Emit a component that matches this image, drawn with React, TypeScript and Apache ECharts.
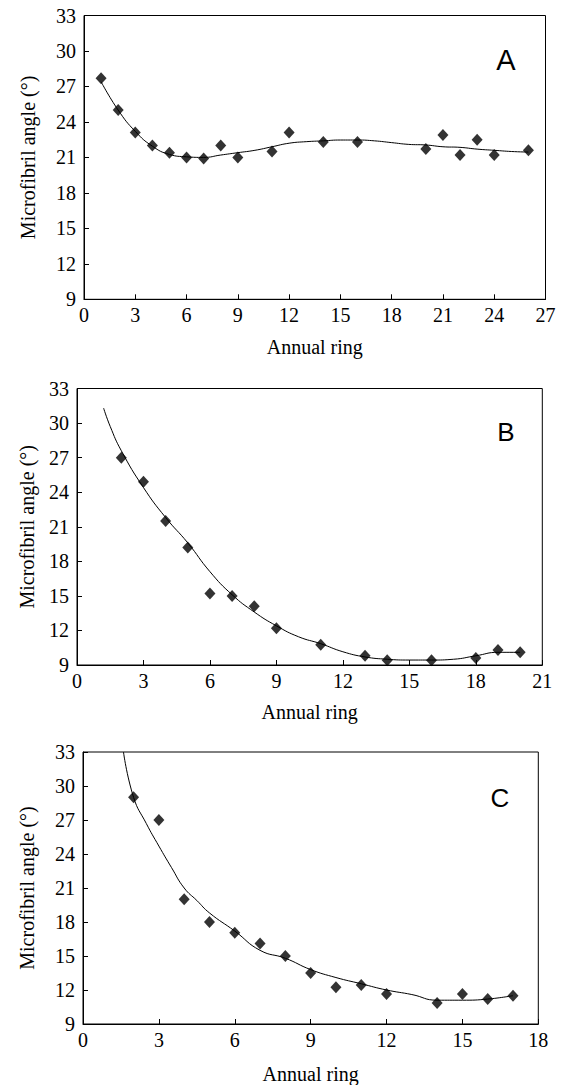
import React, { useEffect, useRef } from "react";
import * as echarts from "echarts";

// Panel A
const aPointX = [1, 2, 3, 4, 5, 6, 7, 8, 9, 11, 12, 14, 16, 20, 21, 22, 23, 24, 26];
const aPointY = [27.7, 25.0, 23.1, 22.0, 21.4, 21.0, 20.9, 22.0, 21.0, 21.5, 23.1, 22.3, 22.3, 21.7, 22.9, 21.2, 22.5, 21.2, 21.6];
const aCurveX = [1, 2, 3, 4, 5, 6, 7, 8, 9, 10, 11, 12, 13, 14, 15, 16, 17, 18, 19, 20, 21, 22, 23, 24, 25, 26];
const aCurveY = [27.4, 25.0, 23.2, 21.95, 21.25, 21.05, 21.0, 21.2, 21.4, 21.6, 21.9, 22.2, 22.33, 22.4, 22.47, 22.47, 22.4, 22.25, 22.1, 22.05, 21.9, 21.85, 21.7, 21.6, 21.5, 21.45];

// Panel B
const bPointX = [2, 3, 4, 5, 6, 7, 8, 9, 11, 13, 14, 16, 18, 19, 20];
const bPointY = [27.0, 24.9, 21.5, 19.2, 15.2, 15.0, 14.1, 12.2, 10.75, 9.8, 9.42, 9.42, 9.6, 10.3, 10.1];
const bCurveX = [1.2, 1.5, 2, 3, 4, 5, 6, 7, 8, 9, 10, 11, 12, 13, 14, 15, 16, 17, 18, 19, 20];
const bCurveY = [31.3, 29.7, 27.6, 24.4, 21.8, 19.6, 17.1, 15.1, 13.6, 12.4, 11.45, 10.85, 10.15, 9.7, 9.5, 9.43, 9.43, 9.5, 9.8, 10.1, 10.1];

// Panel C
const cPointX = [2, 3, 4, 5, 6, 7, 8, 9, 10, 11, 12, 14, 15, 16, 17];
const cPointY = [29.0, 27.0, 20.0, 18.0, 17.05, 16.1, 15.0, 13.5, 12.25, 12.45, 11.65, 10.85, 11.65, 11.2, 11.5];
const cCurveX = [1.6, 2, 2.5, 3, 3.5, 4, 4.5, 5, 6, 7, 8, 9, 10, 11, 12, 13, 14, 15, 16, 17];
const cCurveY = [33.0, 29.0, 26.7, 24.7, 22.8, 21.0, 19.9, 18.8, 17.2, 15.5, 14.8, 13.8, 13.1, 12.55, 12.0, 11.6, 11.1, 11.1, 11.2, 11.5];

const yTicksMin = 9;
const yTicksMax = 33;
const tickStep = 3;
const xMaxA = 27;
const xMaxB = 21;
const xMaxC = 18;
const panelLetters = ["A", "B", "C"];
const xTitle = "Annual ring";
const yTitle = "Microfibril angle (°)";

const zip = (xs: number[], ys: number[]) => xs.map((x, i) => [x, ys[i]]);

const serif = "Liberation Serif";

export default function App() {
  const ref = useRef<HTMLDivElement>(null);
  useEffect(() => {
    if (!ref.current) return;
    const chart = echarts.init(ref.current, undefined, { renderer: "svg" });

    const grids = [
      { left: 84, top: 15.5, width: 461.5, height: 283.8 },
      { left: 77, top: 388.5, width: 465.3, height: 276.5 },
      { left: 83, top: 752, width: 455.3, height: 274 },
    ];
    const xMaxes = [xMaxA, xMaxB, xMaxC];
    const xNameGaps = [38, 37, 40];

    const axisCommon = {
      axisLine: { show: true, lineStyle: { color: "#000", width: 1 } },
      axisTick: { show: true, inside: true, length: 5, lineStyle: { color: "#000", width: 1 } },
      splitLine: { show: false },
    };

    const xAxis = xMaxes.map((mx, i) => ({
      type: "value",
      gridIndex: i,
      min: 0,
      max: mx,
      interval: tickStep,
      ...axisCommon,
      axisLabel: { color: "#000", fontFamily: serif, fontSize: 20, margin: 6 },
      name: xTitle,
      nameLocation: "middle",
      nameGap: xNameGaps[i],
      nameTextStyle: { color: "#000", fontFamily: serif, fontSize: 20 },
    }));

    const yAxis = [0, 1, 2].map((i) => ({
      type: "value",
      gridIndex: i,
      min: yTicksMin,
      max: yTicksMax,
      interval: tickStep,
      ...axisCommon,
      axisLabel: { color: "#000", fontFamily: serif, fontSize: 20, margin: 8 },
      name: yTitle,
      nameLocation: "middle",
      nameGap: i === 1 ? 40 : 46,
      nameRotate: 90,
      nameTextStyle: { color: "#000", fontFamily: serif, fontSize: 20 },
    }));

    const curves = [zip(aCurveX, aCurveY), zip(bCurveX, bCurveY), zip(cCurveX, cCurveY)];
    const points = [zip(aPointX, aPointY), zip(bPointX, bPointY), zip(cPointX, cPointY)];

    const series: any[] = [];
    for (let i = 0; i < 3; i++) {
      series.push({
        type: "line",
        xAxisIndex: i,
        yAxisIndex: i,
        data: curves[i],
        smooth: true,
        showSymbol: false,
        lineStyle: { color: "#000", width: 1 },
        z: 2,
      });
      series.push({
        type: "scatter",
        xAxisIndex: i,
        yAxisIndex: i,
        data: points[i],
        symbol: "diamond",
        symbolSize: [11, 12],
        itemStyle: { color: "#000" },
        z: 3,
      });
    }

    const letterPos = [
      { x: 506, y: 60, size: 29 },
      { x: 506, y: 432, size: 26 },
      { x: 500, y: 798, size: 26 },
    ];

    chart.setOption({
      animation: false,
      backgroundColor: "#fff",
      grid: grids.map((g) => ({
        ...g,
        show: true,
        borderColor: "#000",
        borderWidth: 1,
        backgroundColor: "transparent",
      })),
      xAxis,
      yAxis,
      series,
      graphic: letterPos.map((p, i) => ({
        type: "text",
        x: p.x,
        y: p.y,
        style: {
          text: panelLetters[i],
          fontFamily: "Liberation Sans",
          fontSize: p.size,
          fill: "#000",
          align: "center",
          verticalAlign: "middle",
        },
      })),
    });

    return () => chart.dispose();
  }, []);

  return (
    <div
      ref={ref}
      style={{ position: "absolute", left: 0, top: 0, width: 565, height: 1085 }}
    />
  );
}
